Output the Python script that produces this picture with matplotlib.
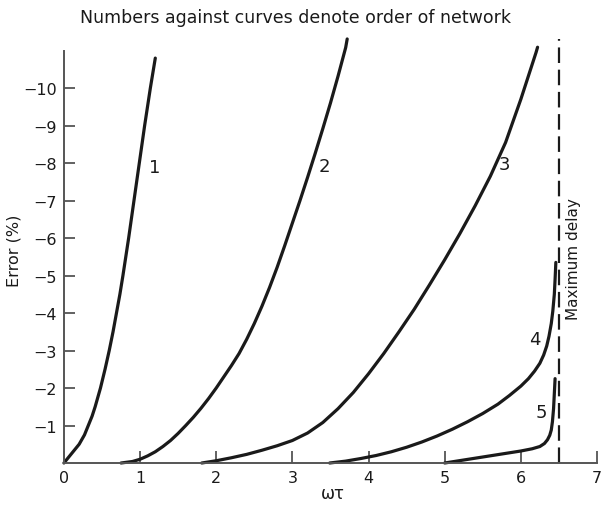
import matplotlib
matplotlib.use("Agg")
import matplotlib.pyplot as plt

# Error (%) versus omega*tau for delay networks of order 1..5
c1_x = [0, 0.04, 0.1, 0.2, 0.27, 0.32, 0.37, 0.41, 0.445, 0.48, 0.54, 0.595, 0.645,
        0.69, 0.735, 0.775, 0.85, 0.92, 0.99, 1.06, 1.135, 1.2]
c1_y = [0, -0.1, -0.25, -0.5, -0.75, -1.0, -1.25, -1.5, -1.75, -2.0, -2.5, -3.0,
        -3.5, -4.0, -4.5, -5.0, -6.0, -7.0, -8.0, -9.0, -10.0, -10.8]

c2_x = [0.75, 0.9, 1.0, 1.1, 1.2, 1.3, 1.4, 1.5, 1.6, 1.7, 1.8, 1.9, 2.0, 2.1, 2.2,
        2.3, 2.4, 2.5, 2.6, 2.7, 2.8, 2.9, 3.0, 3.1, 3.2, 3.3, 3.4, 3.5, 3.6, 3.7, 3.72]
c2_y = [0, -0.04, -0.1, -0.19, -0.3, -0.44, -0.6, -0.79, -1.0, -1.22, -1.46, -1.72,
        -2.0, -2.3, -2.6, -2.92, -3.3, -3.72, -4.18, -4.68, -5.22, -5.8, -6.4, -7.0,
        -7.62, -8.26, -8.92, -9.6, -10.32, -11.08, -11.31]

c3_x = [1.81, 2.0, 2.2, 2.4, 2.6, 2.8, 3.0, 3.2, 3.4, 3.6, 3.8, 4.0, 4.2, 4.4, 4.6,
        4.8, 5.0, 5.2, 5.4, 5.6, 5.8, 6.0, 6.2, 6.22]
c3_y = [0, -0.06, -0.14, -0.23, -0.34, -0.46, -0.6, -0.8, -1.08, -1.45, -1.88, -2.38,
        -2.92, -3.5, -4.1, -4.75, -5.42, -6.12, -6.86, -7.65, -8.55, -9.7, -10.95,
        -11.09]

c4_x = [3.49, 3.7, 3.9, 4.1, 4.3, 4.5, 4.7, 4.9, 5.1, 5.3, 5.5, 5.7, 5.85, 6.0, 6.1,
        6.18, 6.25, 6.3, 6.34, 6.37, 6.40, 6.42, 6.44, 6.45, 6.46]
c4_y = [0, -0.05, -0.12, -0.2, -0.3, -0.42, -0.56, -0.72, -0.9, -1.1, -1.32, -1.57,
        -1.8, -2.05, -2.25, -2.45, -2.66, -2.88, -3.12, -3.38, -3.72, -4.05, -4.5,
        -4.9, -5.35]

c5_x = [5.0, 5.25, 5.5, 5.75, 6.0, 6.15, 6.25, 6.31, 6.35, 6.38, 6.40, 6.415, 6.43,
        6.44, 6.45]
c5_y = [0, -0.08, -0.16, -0.24, -0.32, -0.38, -0.44, -0.52, -0.62, -0.74, -0.88,
        -1.1, -1.45, -1.85, -2.25]

curve_names = ["1", "2", "3", "4", "5"]
label_x = [1.19, 3.42, 5.79, 6.18, 6.27]
label_y = [-7.89, -7.93, -7.97, -3.31, -1.35]

max_delay = 6.5

x_ticks = [0, 1, 2, 3, 4, 5, 6, 7]
x_ticklabels = ["0", "1", "2", "3", "4", "5", "6", "7"]
y_ticks = [-1, -2, -3, -4, -5, -6, -7, -8, -9, -10]
y_ticklabels = ["\u22121", "\u22122", "\u22123", "\u22124", "\u22125",
                "\u22126", "\u22127", "\u22128", "\u22129", "\u221210"]

plt.rcParams["font.family"] = ["DejaVu Sans"]

fig = plt.figure(figsize=(6.03, 5.06), dpi=100)
ax = fig.add_axes([0.106, 0.083, 0.884, 0.838])

ink = "#1a1a1a"
axis_col = "#555555"

for xs, ys in [(c1_x, c1_y), (c2_x, c2_y), (c3_x, c3_y), (c4_x, c4_y), (c5_x, c5_y)]:
    ax.plot(xs, ys, color=ink, lw=2.3, solid_capstyle="round",
            solid_joinstyle="round", clip_on=False)

for name, lx, ly in zip(curve_names, label_x, label_y):
    ax.text(lx, ly, name, fontsize=13, color=ink, ha="center", va="center")

ax.plot([max_delay, max_delay], [0, -11.31], color=ink, lw=1.6,
        dashes=(7, 3), clip_on=False)
ax.text(6.69, -5.47, "Maximum delay", rotation=90, fontsize=11,
        color=ink, ha="center", va="center")

ax.set_xlim(0, 7)
ax.set_ylim(0, -11.31)

for side in ["top", "right"]:
    ax.spines[side].set_visible(False)
for side in ["left", "bottom"]:
    ax.spines[side].set_color(axis_col)
    ax.spines[side].set_linewidth(1.4)
ax.spines["left"].set_bounds(0, -11)

ax.set_xticks(x_ticks)
ax.set_xticklabels(x_ticklabels)
ax.set_yticks(y_ticks)
ax.set_yticklabels(y_ticklabels)
ax.tick_params(axis="x", direction="in", length=9, width=1.3, color=axis_col,
               labelsize=11.5, labelcolor=ink, pad=5)
ax.tick_params(axis="y", direction="in", length=8, width=1.3, color=axis_col,
               labelsize=11.5, labelcolor=ink, pad=5)

ax.set_xlabel("\u03c9\u03c4", fontsize=12, color=ink)
ax.xaxis.set_label_coords(0.505, -0.049)
ax.set_ylabel("Error (%)", fontsize=11.5, color=ink)
ax.yaxis.set_label_coords(-0.079, 0.502)

fig.text(296 / 603, 1 - 18 / 506, "Numbers against curves denote order of network",
         fontsize=12.5, color=ink, ha="center", va="center")

fig.savefig("out.png", dpi=100, facecolor="white")
